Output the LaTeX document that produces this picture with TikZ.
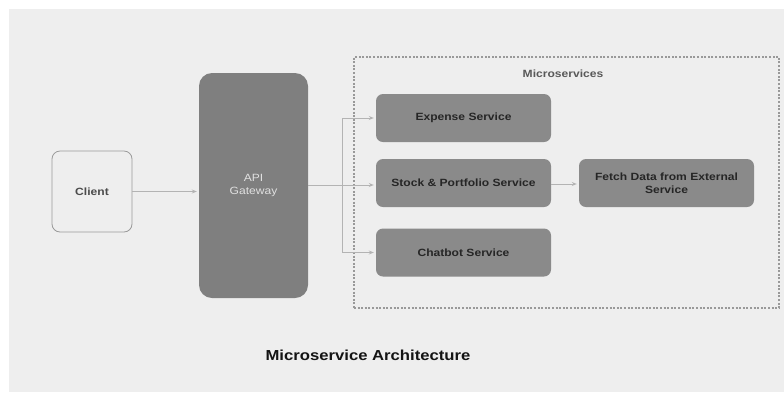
\documentclass[tikz,border=0pt]{standalone}
\usepackage{fontspec}
\setmainfont{Liberation Sans}
\newfontfamily\widesans[FakeStretch=1.15]{Liberation Sans}
\usetikzlibrary{arrows.meta}
\definecolor{bggray}{HTML}{EEEEEE}
\definecolor{apigray}{HTML}{7F7F7F}
\definecolor{svcgray}{HTML}{8A8A8A}
\definecolor{linegray}{HTML}{B3B3B3}
\definecolor{dashgray}{HTML}{999999}
\definecolor{txtdark}{HTML}{262626}
\tikzset{
  svcbox/.style={draw=none, fill=svcgray, rounded corners=7pt, minimum width=175pt, minimum height=48pt, inner sep=0pt, align=center, text=txtdark, font=\widesans\bfseries\fontsize{10.5}{12.8}\selectfont},
  arr/.style={draw=linegray, line width=0.8pt, -{Stealth[length=5pt,width=4pt,open]}, shorten >=2pt},
  plain/.style={draw=linegray, line width=0.8pt}
}
\begin{document}
\begin{tikzpicture}[x=1pt,y=-1pt]
\useasboundingbox (0,0) rectangle (784,392);
\fill[white] (0,0) rectangle (784,392);
\fill[bggray] (9,9) rectangle (784,392);
% dashed container
\node[draw=dashgray, line width=1.1pt, dash pattern=on 2pt off 1.6pt, minimum width=425pt, minimum height=251pt, inner sep=0pt] (ms) at (566.5,182.5) {};
\node[text=black!65, font=\widesans\bfseries\fontsize{10.5}{12}\selectfont] (mslabel) at (563,74) {Microservices};
% client
\node[draw=black!40, line width=0.8pt, fill=bggray, rounded corners=8pt, minimum width=80pt, minimum height=81pt, inner sep=0pt, text=black!70, font=\widesans\bfseries\fontsize{10.5}{12}\selectfont] (client) at (92,191.5) {Client};
% api gateway
\node[fill=apigray, rounded corners=13pt, minimum width=109pt, minimum height=225pt, inner sep=0pt, align=center, text=black!12, font=\widesans\fontsize{10.5}{12.8}\selectfont] (api) at (253.5,185.5) {API\\Gateway};
% services
\node[svcbox] (exp) at (463.5,118) {Expense Service};
\node[svcbox] (stock) at (463.5,183) {Stock \& Portfolio Service};
\node[svcbox] (chat) at (463.5,252.5) {Chatbot Service};
\node[svcbox] (fetch) at (666.5,183) {Fetch Data from External\\Service};
% title
\node[text=black!92, font=\widesans\bfseries\fontsize{14.5}{16}\selectfont] (title) at (368,355.5) {Microservice Architecture};
% connectors
\draw[arr] (client.east) -- (client.east -| api.west);
\coordinate (split) at (342,185);
\draw[arr] (split -| api.east) -- (split -| stock.west);
\draw[arr] (split) |- (exp.west);
\draw[arr] (split) |- (chat.west);
\coordinate (sf) at (0,184);
\draw[arr] (sf -| stock.east) -- (sf -| fetch.west);
\end{tikzpicture}
\end{document}
